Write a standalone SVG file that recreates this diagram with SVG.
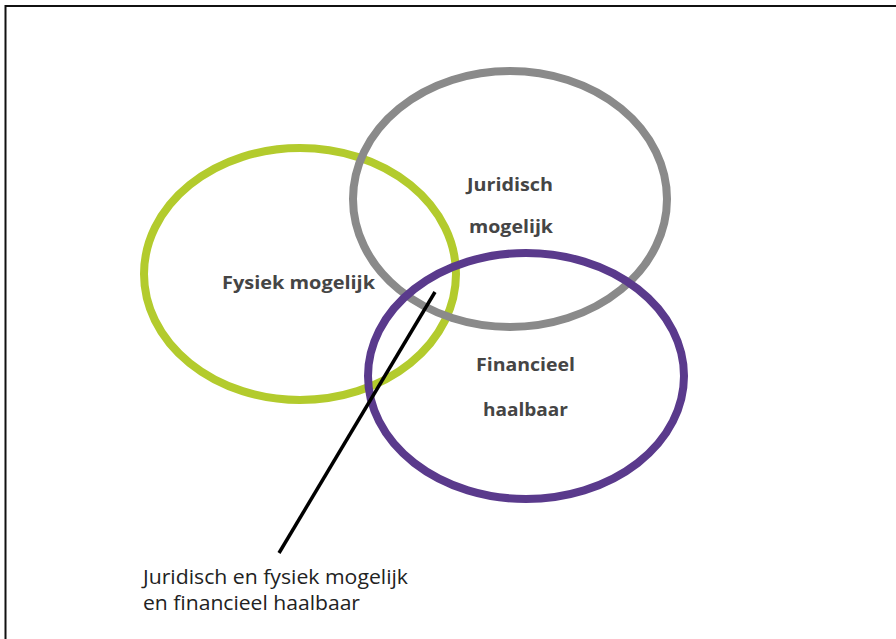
<svg xmlns="http://www.w3.org/2000/svg" width="896" height="639" viewBox="0 0 896 639">
<style>
.ring{fill:none;stroke-width:8}
.lbl{font-family:"Open Sans","Liberation Sans",sans-serif;font-weight:bold;font-size:18.5px;fill:#454545}
.cap{font-family:"Open Sans","Liberation Sans",sans-serif;font-size:20px;fill:#222}
</style>
<rect x="0" y="0" width="896" height="639" fill="#fff"/>
<path d="M5.5 639 V6 H896" fill="none" stroke="#111" stroke-width="2"/>
<g id="fysiek">
<ellipse class="ring" cx="300" cy="274" rx="156" ry="126" stroke="#b3cb2d"/>
<text class="lbl" x="222" y="289" textLength="153" lengthAdjust="spacingAndGlyphs">Fysiek mogelijk</text>
</g>
<g id="juridisch">
<ellipse class="ring" cx="510" cy="199" rx="157" ry="128" stroke="#8a8a8a"/>
<text class="lbl" x="467" y="191" textLength="86" lengthAdjust="spacingAndGlyphs">Juridisch</text>
<text class="lbl" x="469" y="233" textLength="84" lengthAdjust="spacingAndGlyphs">mogelijk</text>
</g>
<g id="financieel">
<ellipse class="ring" cx="526" cy="376" rx="158" ry="123" stroke="#5a3a8c"/>
<text class="lbl" x="476" y="371" textLength="99" lengthAdjust="spacingAndGlyphs">Financieel</text>
<text class="lbl" x="483" y="416" textLength="85" lengthAdjust="spacingAndGlyphs">haalbaar</text>
</g>
<g id="connectors">
<line x1="435" y1="292" x2="279" y2="553" stroke="#000" stroke-width="3.5"/>
</g>
<g id="caption">
<text class="cap" x="143" y="584" textLength="265" lengthAdjust="spacingAndGlyphs">Juridisch en fysiek mogelijk</text>
<text class="cap" x="143" y="610" textLength="217" lengthAdjust="spacingAndGlyphs">en financieel haalbaar</text>
</g>
</svg>
